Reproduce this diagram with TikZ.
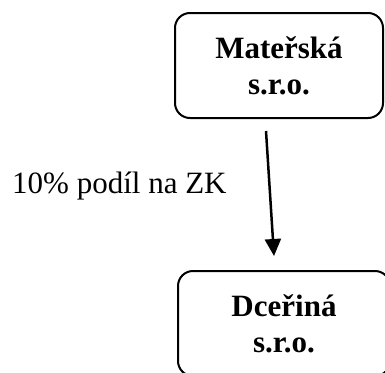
\documentclass[tikz,border=0pt]{standalone}
\usepackage{fontspec}
\setmainfont{Liberation Serif}
\usetikzlibrary{arrows.meta}
\begin{document}
\begin{tikzpicture}[x=1pt,y=1pt,
  company/.style={draw=black, line width=2pt, rounded corners=15pt,
    minimum width=208pt, minimum height=105pt, inner sep=0pt,
    align=center, font=\fontsize{31}{36}\selectfont\bfseries},
  lbl/.style={font=\fontsize{31}{36}\selectfont, inner sep=0pt},
  conn/.style={line width=2.5pt, -{Triangle[width=16pt,length=17pt]}}]
\useasboundingbox (0,0) rectangle (385,-372);
\node[company] (top) at (279,-65.5) {Mateřská\\s.r.o.};
\node[company, minimum width=212pt] (bot) at (284,-323.5) {Dceřiná\\s.r.o.};
\node[lbl, anchor=base west] (share) at (12,-193) {10\% podíl na ZK};
\draw[conn] ([xshift=-13pt,yshift=-12pt]top.south) -- ([xshift=-10pt,yshift=14pt]bot.north);
\end{tikzpicture}
\end{document}
